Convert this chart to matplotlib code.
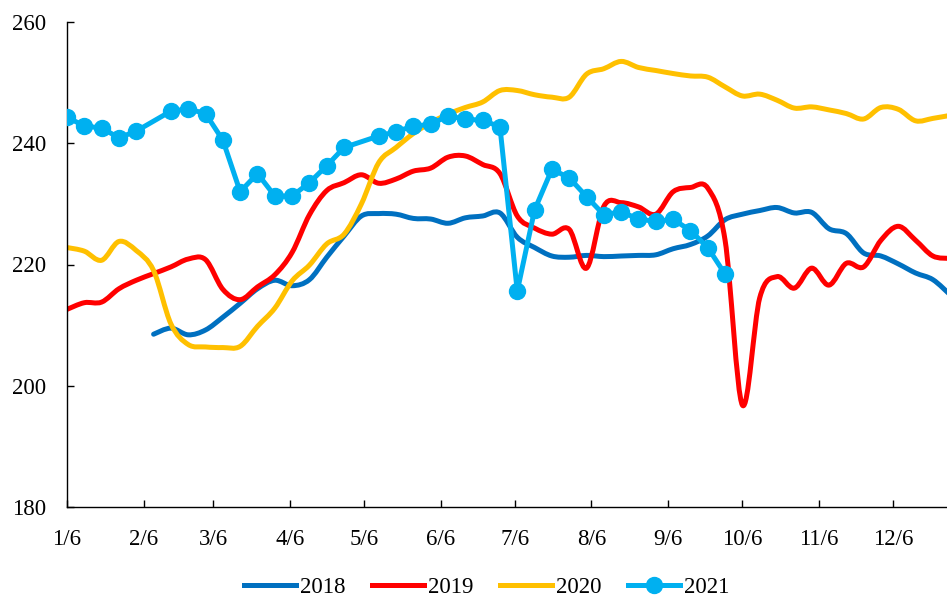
import numpy as np
import pandas as pd
import matplotlib
matplotlib.use("Agg")
import matplotlib.pyplot as plt
from matplotlib.path import Path
from matplotlib.patches import PathPatch
from matplotlib.lines import Line2D

plt.rcParams['font.family'] = ['Liberation Serif', 'DejaVu Serif']

# ---------------- data ----------------
tick_dates = ['01-06', '02-06', '03-06', '04-06', '05-06', '06-06',
              '07-06', '08-06', '09-06', '10-06', '11-06', '12-06']
tick_labels = ['1/6', '2/6', '3/6', '4/6', '5/6', '6/6',
               '7/6', '8/6', '9/6', '10/6', '11/6', '12/6']

dates_2018 = pd.date_range('2021-02-10', periods=47, freq='7D')
vals_2018 = [208.5, 209.5, 208.4, 209.2, 211.3, 213.6, 216.0, 217.4, 216.5, 217.5,
             221.2, 224.7, 228.0, 228.4, 228.3, 227.6, 227.5, 226.8, 227.7, 228.0,
             228.5, 224.5, 222.8, 221.4, 221.2, 221.5, 221.3, 221.4, 221.5, 221.6,
             222.6, 223.3, 224.7, 227.4, 228.3, 228.9, 229.4, 228.5, 228.6, 225.9,
             225.1, 221.9, 221.4, 220.1, 218.6, 217.5, 215.0]

dates_2019 = pd.date_range('2021-01-06', periods=52, freq='7D')
vals_2019 = [212.6, 213.7, 213.8, 216.0, 217.4, 218.5, 219.6, 220.9, 220.8, 215.9,
             214.2, 216.3, 218.3, 222.0, 228.2, 232.2, 233.5, 234.8, 233.4, 234.1,
             235.4, 235.9, 237.7, 237.9, 236.5, 235.0, 228.0, 226.0, 225.0, 225.8,
             219.4, 229.6, 230.2, 229.5, 228.3, 232.0, 232.7, 232.6, 224.0, 196.8,
             214.5, 218.0, 216.1, 219.4, 216.6, 220.2, 219.6, 224.0, 226.3, 224.0,
             221.4, 221.0]

dates_2020 = pd.date_range('2021-01-06', periods=52, freq='7D')
vals_2020 = [222.8, 222.2, 220.7, 223.8, 222.3, 219.0, 210.2, 206.8, 206.4, 206.3,
             206.5, 209.8, 212.8, 217.3, 219.9, 223.4, 225.0, 230.0, 236.8, 239.3,
             241.6, 243.4, 244.8, 245.9, 246.8, 248.7, 248.7, 248.0, 247.6, 247.6,
             251.4, 252.3, 253.5, 252.5, 252.0, 251.5, 251.1, 250.9, 249.3, 247.8,
             248.1, 247.1, 245.8, 246.0, 245.5, 244.9, 244.0, 245.9, 245.6, 243.7,
             244.1, 244.6]

dates_2021 = ['01-06', '01-13', '01-20', '01-27', '02-03', '02-17', '02-24',
              '03-03', '03-10', '03-17', '03-24', '03-31', '04-07', '04-14',
              '04-21', '04-28', '05-12', '05-19', '05-26', '06-02', '06-09',
              '06-16', '06-23', '06-30', '07-07', '07-14', '07-21', '07-28',
              '08-04', '08-11', '08-18', '08-25', '09-01', '09-08', '09-15',
              '09-22', '09-29']
vals_2021 = [244.3, 242.85, 242.5, 240.9, 242.0, 245.3, 245.65, 244.9, 240.5, 232.0,
             235.0, 231.3, 231.3, 233.5, 236.3, 239.3, 241.2, 241.9, 242.85, 243.1,
             244.55, 243.95, 243.8, 242.7, 215.6, 229.0, 235.7, 234.3, 231.2, 228.2,
             228.7, 227.5, 227.1, 227.45, 225.6, 222.8, 218.4]

series_names = ['2018', '2019', '2020', '2021']
colors = ['#0070C0', '#FF0000', '#FFC000', '#00B0F0']

BASE = pd.Timestamp('2021-01-01')


def doy(d):
    d = pd.to_datetime(d)
    return np.asarray((d - BASE).days, dtype=float)


def doy_md(md_list):
    return doy(['2021-' + s for s in md_list])


def smooth_patch(x, y, color, lw):
    P = np.column_stack([x, y])
    n = len(P)
    verts = [P[0]]
    codes = [Path.MOVETO]
    for i in range(n - 1):
        p0 = P[i - 1] if i > 0 else P[i]
        p1 = P[i]
        p2 = P[i + 1]
        p3 = P[i + 2] if i + 2 < n else P[i + 1]
        c1 = p1 + (p2 - p0) / 6.0
        c2 = p2 - (p3 - p1) / 6.0
        verts += [c1, c2, p2]
        codes += [Path.CURVE4] * 3
    path = Path(np.array(verts), codes)
    return PathPatch(path, facecolor='none', edgecolor=color, lw=lw,
                     capstyle='round', joinstyle='round')


# ---------------- figure ----------------
fig = plt.figure(figsize=(9.47, 5.97), dpi=100)
ax = fig.add_axes([67 / 947, 1 - 507 / 597, 1 - 67 / 947, (507 - 22) / 597])

LW = 3.6
for dts, vals, c in [(dates_2018, vals_2018, colors[0]),
                     (dates_2019, vals_2019, colors[1]),
                     (dates_2020, vals_2020, colors[2])]:
    ax.add_patch(smooth_patch(doy(dts), np.array(vals), c, LW))

ax.plot(doy_md(dates_2021), vals_2021, color=colors[3], lw=LW,
        marker='o', markersize=11.5, solid_capstyle='round', zorder=5)

ax.set_xlim(5, 360.7)
ax.set_ylim(180, 260)
ax.set_yticks([180, 200, 220, 240, 260])
ax.set_xticks(doy_md(tick_dates))
ax.set_xticklabels(tick_labels)

for s in ['top', 'right']:
    ax.spines[s].set_visible(False)
for s in ['left', 'bottom']:
    ax.spines[s].set_linewidth(1.0)
    ax.spines[s].set_color('black')

ax.tick_params(axis='both', direction='in', length=5, width=1.0,
               labelsize=16.5, colors='black')
ax.tick_params(axis='y', pad=15)
ax.tick_params(axis='x', pad=16)

handles = [Line2D([], [], color=colors[0], lw=LW),
           Line2D([], [], color=colors[1], lw=LW),
           Line2D([], [], color=colors[2], lw=LW),
           Line2D([], [], color=colors[3], lw=LW, marker='o', markersize=11.5)]
fig.legend(handles, series_names, loc='center', bbox_to_anchor=(0.514, 0.016),
           ncol=4, frameon=False, fontsize=16.5, handlelength=2.25,
           handletextpad=0.2, columnspacing=1.15, borderpad=0)

fig.savefig('out.png', dpi=100)
